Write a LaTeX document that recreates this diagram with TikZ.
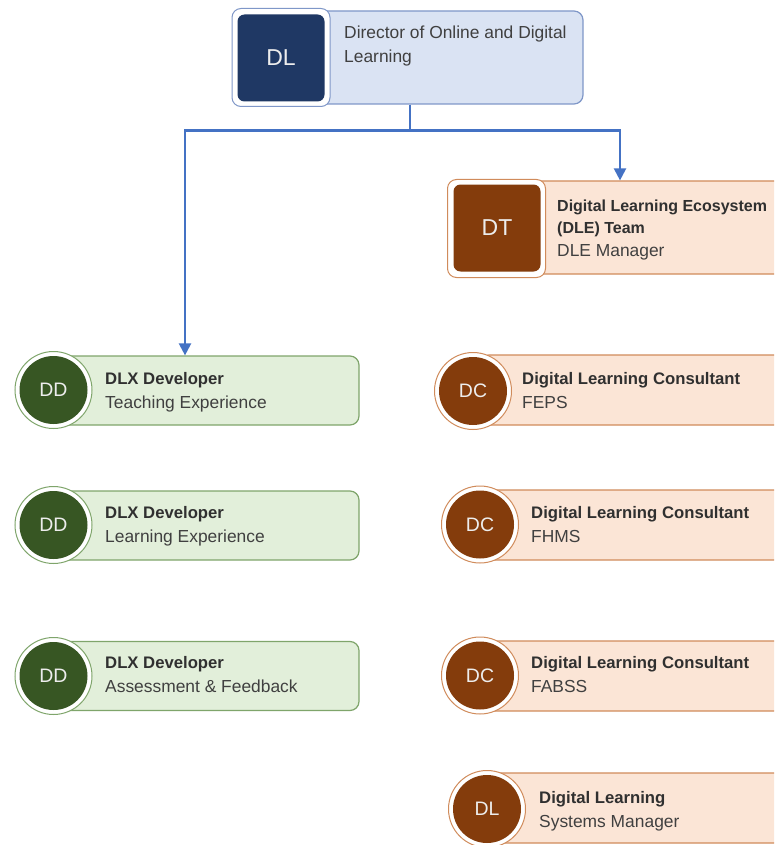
\documentclass[tikz,border=0pt]{standalone}
\usepackage{fontspec}
\setmainfont{Liberation Sans}
\usetikzlibrary{arrows.meta}
\definecolor{bluelight}{HTML}{DAE3F3}
\definecolor{blueline}{HTML}{7F97C8}
\definecolor{navy}{HTML}{1F3864}
\definecolor{orglight}{HTML}{FBE5D6}
\definecolor{orgline}{HTML}{D08B5B}
\definecolor{brown}{HTML}{843C0C}
\definecolor{grnlight}{HTML}{E2EFDA}
\definecolor{grnline}{HTML}{7FA56B}
\definecolor{dkgreen}{HTML}{375623}
\definecolor{conncol}{HTML}{4472C4}
\definecolor{titlecol}{HTML}{303030}
\definecolor{subcol}{HTML}{404040}
\definecolor{iconcol}{HTML}{EDEDED}
\begin{document}
\begin{tikzpicture}[x=1pt,y=-1pt,
  card/.style={draw=#1, rounded corners=9pt, line width=1.2pt, inner sep=0pt},
  bluecard/.style={card=blueline, fill=bluelight},
  orgcard/.style={card=orgline, fill=orglight},
  grncard/.style={card=grnline, fill=grnlight},
  sqring/.style={draw=#1, fill=white, rounded corners=9pt, line width=1pt, minimum size=98pt, inner sep=0pt},
  sqicon/.style={fill=#1, rounded corners=7pt, minimum size=87pt, inner sep=0pt, text=iconcol, font=\fontsize{23}{26}\selectfont},
  cring/.style={draw=#1, fill=white, circle, line width=1pt, minimum size=77pt, inner sep=0pt},
  cicon/.style={fill=#1, circle, minimum size=68pt, inner sep=0pt, text=iconcol, font=\fontsize{19.5}{22}\selectfont},
  ttl/.style={anchor=base west, inner sep=0pt, text=titlecol, font=\fontsize{16.7}{20}\selectfont\bfseries},
  ttlsm/.style={ttl, font=\fontsize{16}{20}\selectfont\bfseries},
  sub/.style={anchor=base west, inner sep=0pt, text=subcol, font=\fontsize{17.4}{20}\selectfont},
  conn/.style={draw=conncol, line width=2.2pt, -{Triangle[width=12pt,length=12pt]}}
]
\useasboundingbox (0,0) rectangle (774,845);
\clip (0,0) rectangle (774,845);

% Top card
\node[bluecard, minimum width=346pt, minimum height=93pt] (top) at (410,57.5) {};
\node[sqring=blueline] (topring) at (281,57.5) {};
\node[sqicon=navy] (topicon) at (281,58) {DL};
\node[sub] (topt1) at (344,39) {Director of Online and Digital};
\node[sub] (topt2) at (344,63) {Learning};

% DT card
\node[orgcard, minimum width=342pt, minimum height=93pt] (dt) at (620,227.5) {};
\node[sqring=orgline] (dtring) at (496.5,228.5) {};
\node[sqicon=brown] (dticon) at (497,228) {DT};
\node[ttlsm] (dtt1) at (557,211) {Digital Learning Ecosystem};
\node[ttlsm] (dtt2) at (557,233) {(DLE) Team};
\node[sub] (dtt3) at (557,256) {DLE Manager};

% Green cards
\node[grncard, minimum width=319pt, minimum height=69pt] (dd1) at (199.5,390.5) {};
\node[cring=grnline] (dd1ring) at (53.5,390) {};
\node[cicon=dkgreen] (dd1icon) at (53.5,390) {DD};
\node[ttl] (dd1t1) at (105,384) {DLX Developer};
\node[sub] (dd1t2) at (105,408) {Teaching Experience};

\node[grncard, minimum width=319pt, minimum height=69pt] (dd2) at (199.5,525.5) {};
\node[cring=grnline] (dd2ring) at (53.5,525) {};
\node[cicon=dkgreen] (dd2icon) at (53.5,525) {DD};
\node[ttl] (dd2t1) at (105,518) {DLX Developer};
\node[sub] (dd2t2) at (105,542) {Learning Experience};

\node[grncard, minimum width=319pt, minimum height=69pt] (dd3) at (199.5,676) {};
\node[cring=grnline] (dd3ring) at (53.5,676) {};
\node[cicon=dkgreen] (dd3icon) at (53.5,676) {DD};
\node[ttl] (dd3t1) at (105,668) {DLX Developer};
\node[sub] (dd3t2) at (105,692) {Assessment \& Feedback};

% Orange cards
\node[orgcard, minimum width=320pt, minimum height=70pt] (dc1) at (640,390) {};
\node[cring=orgline] (dc1ring) at (473,391) {};
\node[cicon=brown] (dc1icon) at (473,391) {DC};
\node[ttl] (dc1t1) at (522,384) {Digital Learning Consultant};
\node[sub] (dc1t2) at (522,408) {FEPS};

\node[orgcard, minimum width=320pt, minimum height=70pt] (dc2) at (640,525) {};
\node[cring=orgline] (dc2ring) at (480,524.5) {};
\node[cicon=brown] (dc2icon) at (480,524.5) {DC};
\node[ttl] (dc2t1) at (531,518) {Digital Learning Consultant};
\node[sub] (dc2t2) at (531,542) {FHMS};

\node[orgcard, minimum width=320pt, minimum height=70pt] (dc3) at (640,676) {};
\node[cring=orgline] (dc3ring) at (480,675.5) {};
\node[cicon=brown] (dc3icon) at (480,675.5) {DC};
\node[ttl] (dc3t1) at (531,668) {Digital Learning Consultant};
\node[sub] (dc3t2) at (531,692) {FABSS};

\node[orgcard, minimum width=320pt, minimum height=70pt] (dsm) at (650,808) {};
\node[cring=orgline] (dsmring) at (487,809) {};
\node[cicon=brown] (dsmicon) at (487,809) {DL};
\node[ttl] (dsmt1) at (539,803) {Digital Learning};
\node[sub] (dsmt2) at (539,827) {Systems Manager};

% Connectors
\draw[conn] (top.south) -- ++(0,26) -| (dt.north);
\draw[conn] (top.south) -- ++(0,26) -| ([xshift=-14.5pt]dd1.north);
\end{tikzpicture}
\end{document}
